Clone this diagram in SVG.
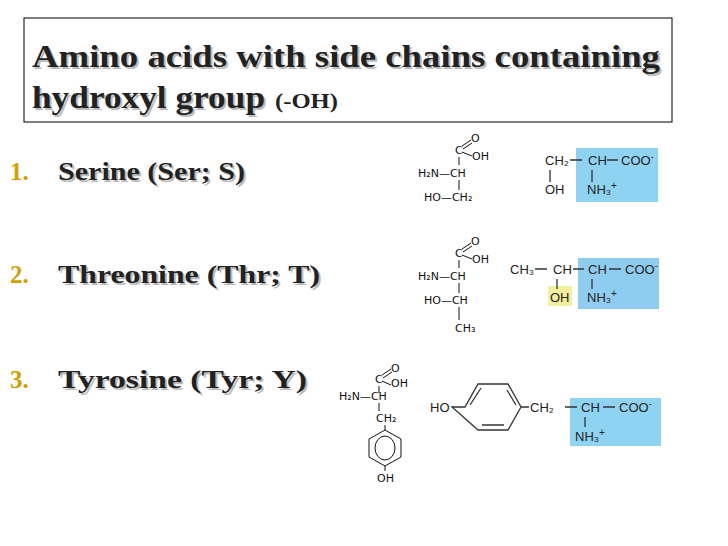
<svg xmlns="http://www.w3.org/2000/svg" width="728" height="546" viewBox="0 0 728 546">
<style>
.t{font-family:"Liberation Serif",serif;font-weight:bold;fill:#222}
.sh{font-family:"Liberation Serif",serif;font-weight:bold;fill:#bbb}
.n{font-family:"Liberation Serif",serif;font-weight:bold;fill:#d4a000;font-size:25px}
.s{font-family:"DejaVu Sans",sans-serif;font-size:11px;fill:#111}
.b{font-family:"Liberation Sans",sans-serif;font-size:13px;fill:#222}
.l{stroke:#111;stroke-width:1;fill:none}
.lb{stroke:#333;stroke-width:1.3;fill:none}
</style>
<rect width="728" height="546" fill="#fff"/>
<g id="title">
<rect x="24" y="18" width="648" height="104" fill="#fff" stroke="#000" stroke-width="1"/>
<text class="sh" x="34" y="69" font-size="32" textLength="628" lengthAdjust="spacingAndGlyphs">Amino acids with side chains containing</text>
<text class="t" x="32" y="67" font-size="32" textLength="628" lengthAdjust="spacingAndGlyphs">Amino acids with side chains containing</text>
<text class="sh" x="34" y="110" font-size="32" textLength="233" lengthAdjust="spacingAndGlyphs">hydroxyl group</text>
<text class="t" x="32" y="108" font-size="32" textLength="233" lengthAdjust="spacingAndGlyphs">hydroxyl group</text>
<text class="t" x="275" y="108" font-size="20" textLength="63" lengthAdjust="spacingAndGlyphs">(-OH)</text>
</g>
<g id="list">
<text class="n" x="10" y="180">1.</text>
<text class="sh" x="60" y="182" font-size="26" textLength="187" lengthAdjust="spacingAndGlyphs">Serine (Ser; S)</text>
<text class="t" x="58" y="180" font-size="26" textLength="187" lengthAdjust="spacingAndGlyphs">Serine (Ser; S)</text>
<text class="n" x="10" y="283">2.</text>
<text class="sh" x="60" y="285" font-size="26" textLength="262" lengthAdjust="spacingAndGlyphs">Threonine (Thr; T)</text>
<text class="t" x="58" y="283" font-size="26" textLength="262" lengthAdjust="spacingAndGlyphs">Threonine (Thr; T)</text>
<text class="n" x="10" y="388">3.</text>
<text class="sh" x="60" y="390" font-size="26" textLength="249" lengthAdjust="spacingAndGlyphs">Tyrosine (Tyr; Y)</text>
<text class="t" x="58" y="388" font-size="26" textLength="249" lengthAdjust="spacingAndGlyphs">Tyrosine (Tyr; Y)</text>
</g>
<g id="serine-small">
<text class="s" x="471" y="142">O</text>
<text class="s" x="455" y="154">C</text>
<path class="l" d="M462 146 L471 140 M463 149 L472 143 M462 152 L472 156"/>
<text class="s" x="472" y="160">OH</text>
<path class="l" d="M459 157 V165"/>
<text class="s" x="418" y="177">H₂N—CH</text>
<path class="l" d="M459 180 V190"/>
<text class="s" x="424" y="201">HO—CH₂</text>
</g>
<g id="serine-big">
<rect x="576" y="148" width="82" height="54" fill="#8fd3f2"/>
<text class="b" x="545" y="165">CH₂</text>
<text class="b" x="588" y="165">CH</text>
<text class="b" x="621" y="165">COO<tspan dy="-5" font-size="9">-</tspan></text>
<path class="lb" d="M570 160 H582 M607 160 H618 M550 170 V182 M592 170 V182"/>
<text class="b" x="545" y="194">OH</text>
<text class="b" x="587" y="194">NH₃<tspan dy="-5" font-size="10">+</tspan></text>
</g>
<g id="threonine-small">
<text class="s" x="471" y="245">O</text>
<text class="s" x="455" y="257">C</text>
<path class="l" d="M462 249 L471 243 M463 252 L472 246 M462 255 L472 259"/>
<text class="s" x="472" y="263">OH</text>
<path class="l" d="M459 260 V268"/>
<text class="s" x="418" y="280">H₂N—CH</text>
<path class="l" d="M459 283 V293"/>
<text class="s" x="424" y="304">HO—CH</text>
<path class="l" d="M459 307 V320"/>
<text class="s" x="455" y="332">CH₃</text>
</g>
<g id="threonine-big">
<rect x="578" y="258" width="81" height="51" fill="#8fcdf0"/>
<rect x="548" y="286" width="24" height="20" fill="#f4ef9a"/>
<text class="b" x="510" y="274" fill="#666">CH₃</text>
<text class="b" x="553" y="274" fill="#666">CH</text>
<text class="b" x="588" y="274">CH</text>
<text class="b" x="625" y="274">COO<tspan dy="-5" font-size="9">-</tspan></text>
<path class="lb" d="M535 269 H547 M573 269 H584 M609 269 H621 M557 279 V289 M592 279 V289"/>
<text class="b" x="550" y="302">OH</text>
<text class="b" x="587" y="302">NH₃<tspan dy="-5" font-size="10">+</tspan></text>
</g>
<g id="tyrosine-small">
<text class="s" x="391" y="372">O</text>
<text class="s" x="375" y="383">C</text>
<path class="l" d="M382 375 L391 369 M383 378 L392 372 M382 381 L391 385"/>
<text class="s" x="391" y="387">OH</text>
<path class="l" d="M379 386 V393"/>
<text class="s" x="339" y="400">H₂N—CH</text>
<path class="l" d="M379 403 V411"/>
<text class="s" x="376" y="422">CH₂</text>
<path class="l" d="M385 425 V430 M385 430 L401 439 V457 L385 466 L369 457 V439 Z M385 466 V471"/>
<ellipse class="l" cx="385" cy="448" rx="10" ry="12"/>
<text class="s" x="377" y="482">OH</text>
</g>
<g id="tyrosine-big">
<rect x="570" y="398" width="91" height="48" fill="#8fd3f2"/>
<text class="b" x="430" y="412">HO</text>
<path class="lb" d="M452 407 H465 L478 384 H508 L521 407 L508 430 H478 Z M470 405 L481 388 M482 425 H504 M507 390 L516 405 M521 407 H529"/>
<text class="b" x="530" y="412">CH₂</text>
<text class="b" x="581" y="412">CH</text>
<text class="b" x="619" y="412">COO<tspan dy="-5" font-size="9">-</tspan></text>
<path class="lb" d="M565 407 H577 M603 407 H615 M585 417 V427"/>
<text class="b" x="575" y="441">NH₃<tspan dy="-5" font-size="10">+</tspan></text>
</g>
</svg>
